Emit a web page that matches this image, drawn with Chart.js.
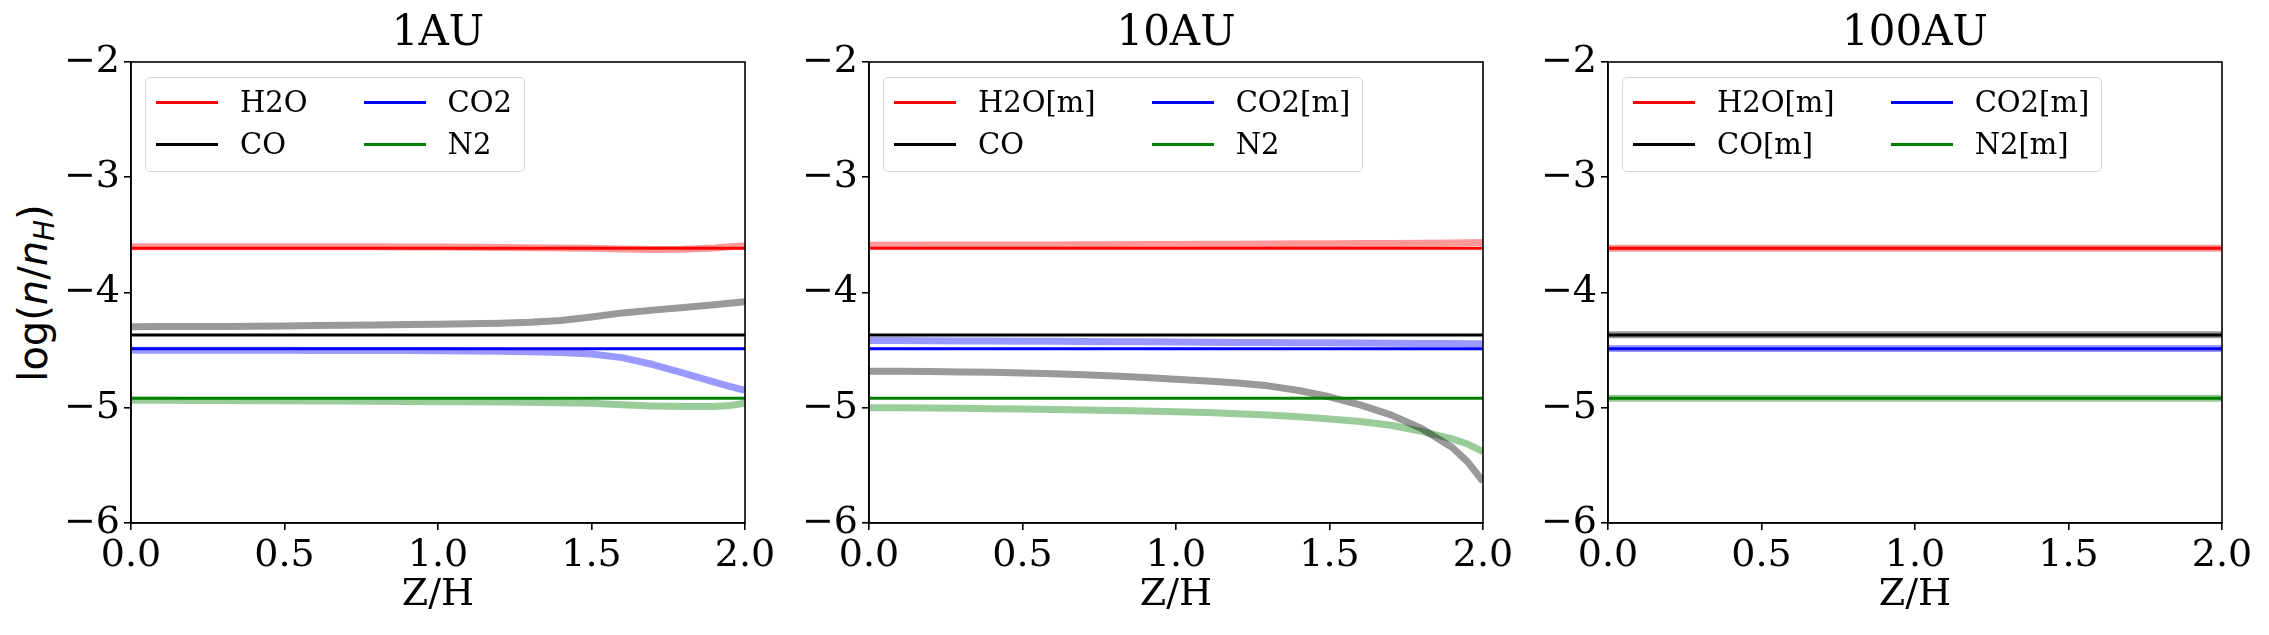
<!DOCTYPE html>
<html>
<head>
<meta charset="utf-8">
<script src="https://cdn.jsdelivr.net/npm/chart.js@4.4.1/dist/chart.umd.min.js"></script>
<style>
html, body { margin:0; padding:0; background:#fff; overflow:hidden; }
body { width:2269px; height:635px; position:relative; }
.panel { position:absolute; top:0; width:769px; height:635px; }
.panel canvas { position:absolute; left:0; top:0; }
.legend { position:absolute; box-sizing:border-box; border:1.5px solid #d5d5d5; border-radius:5px;
  background:rgba(255,255,255,0.8); padding:3px 12px 6px 10px; display:grid;
  grid-template-rows:42px 42px; grid-auto-flow:column; column-gap:56px;
  font:29px 'DejaVu Serif', serif; color:#000; }
.legend .it { display:flex; align-items:center; white-space:nowrap; }
.legend .sw { display:inline-block; width:62px; height:3px; margin-right:22px; }
#ylab { position:absolute; left:33px; top:293px; transform:translate(-50%,-50%) rotate(-90deg);
  font:40px 'DejaVu Sans', sans-serif; white-space:nowrap; color:#000; }
#ylab sub { font-size:0.7em; vertical-align:-0.25em; line-height:0; }
</style>
</head>
<body>
<div id="ylab">log(<i>n</i>/<i>n<sub>H</sub></i>)</div>
<div class="panel" id="p0"><canvas id="c0" width="769" height="635"></canvas></div>
<div class="panel" id="p1"><canvas id="c1" width="769" height="635"></canvas></div>
<div class="panel" id="p2"><canvas id="c2" width="769" height="635"></canvas></div>
<script>
// --- données ---
const zh = [0,0.1,0.2,0.3,0.4,0.5,0.6,0.7,0.8,0.9,1.0,1.1,1.2,1.3,1.4,1.5,1.6,1.7,1.8,1.9,1.95,2.0];
const zEnds = [0, 2];

// lignes fines (valeurs initiales), identiques dans les 3 panneaux
const refH2O = [-3.617, -3.617];
const refCO  = [-4.369, -4.369];
const refCO2 = [-4.488, -4.488];
const refN2  = [-4.918, -4.918];

// 1AU
const h2o1 = [-3.602,-3.602,-3.602,-3.602,-3.602,-3.603,-3.603,-3.604,-3.604,-3.605,-3.606,-3.607,-3.609,-3.611,-3.613,-3.617,-3.623,-3.627,-3.625,-3.613,-3.603,-3.596];
const co1  = [-4.297,-4.296,-4.295,-4.294,-4.292,-4.290,-4.287,-4.284,-4.281,-4.278,-4.275,-4.271,-4.266,-4.258,-4.243,-4.213,-4.177,-4.153,-4.131,-4.106,-4.093,-4.080];
const co21 = [-4.500,-4.500,-4.501,-4.501,-4.502,-4.502,-4.503,-4.503,-4.504,-4.504,-4.505,-4.507,-4.510,-4.514,-4.520,-4.533,-4.565,-4.625,-4.700,-4.778,-4.815,-4.850];
const n21  = [-4.935,-4.936,-4.937,-4.938,-4.939,-4.940,-4.941,-4.942,-4.944,-4.945,-4.947,-4.949,-4.951,-4.953,-4.956,-4.962,-4.973,-4.984,-4.990,-4.990,-4.980,-4.960];

// 10AU
const h2o10 = [-3.589,-3.589,-3.588,-3.588,-3.588,-3.587,-3.587,-3.586,-3.585,-3.584,-3.583,-3.582,-3.581,-3.580,-3.578,-3.577,-3.575,-3.574,-3.572,-3.570,-3.569,-3.567];
const co10  = [-4.683,-4.684,-4.686,-4.689,-4.693,-4.698,-4.705,-4.713,-4.724,-4.737,-4.752,-4.767,-4.786,-4.810,-4.850,-4.905,-4.975,-5.062,-5.180,-5.345,-5.470,-5.640];
const co210 = [-4.416,-4.417,-4.418,-4.420,-4.421,-4.422,-4.424,-4.425,-4.427,-4.428,-4.430,-4.431,-4.433,-4.434,-4.436,-4.437,-4.439,-4.440,-4.442,-4.443,-4.444,-4.445];
const n210  = [-5.000,-5.001,-5.003,-5.005,-5.008,-5.011,-5.015,-5.019,-5.024,-5.029,-5.035,-5.042,-5.051,-5.063,-5.079,-5.097,-5.120,-5.152,-5.205,-5.270,-5.315,-5.380];

// 100AU (plat)
const h2o100 = [-3.617, -3.617];
const co100  = [-4.366, -4.366];
const co2100 = [-4.486, -4.486];
const n2100  = [-4.918, -4.918];

const titles = ['1AU', '10AU', '100AU'];
const names1 = ['H2O', 'CO', 'CO2', 'N2'];
const names2 = ['H2O[m]', 'CO', 'CO2[m]', 'N2'];
const names3 = ['H2O[m]', 'CO[m]', 'CO2[m]', 'N2[m]'];

const colors = ['#ff0000', '#000000', '#0000ff', '#008000'];
const faded  = ['rgba(255,0,0,0.4)', 'rgba(0,0,0,0.4)', 'rgba(0,0,255,0.4)', 'rgba(0,128,0,0.4)'];

const panels = [
  { title: titles[0], names: names1, xs: zh, thick: [h2o1, co1, co21, n21] },
  { title: titles[1], names: names2, xs: zh, thick: [h2o10, co10, co210, n210] },
  { title: titles[2], names: names3, xs: zEnds, thick: [h2o100, co100, co2100, n2100] }
];
const plotLeft = [131, 869, 1608];

const toPts = (xs, ys) => xs.map((x, k) => ({ x: x, y: ys[k] }));
const serif = 'DejaVu Serif';

const framePlugin = {
  id: 'frame',
  afterDatasetsDraw(chart) {
    const { ctx, chartArea: a } = chart;
    ctx.save();
    ctx.strokeStyle = '#000'; ctx.lineWidth = 1.6;
    ctx.strokeRect(a.left, a.top, a.right - a.left, a.bottom - a.top);
    ctx.restore();
  }
};
// titre centré sur la zone du graphe
const titleCenter = {
  id: 'titleCenter',
  afterLayout(chart) {
    const t = chart.titleBlock;
    if (t) { t.left = chart.chartArea.left; t.right = chart.chartArea.right; t.width = t.right - t.left; }
  }
};

const refs = [refH2O, refCO, refCO2, refN2];

panels.forEach((p, i) => {
  const box = document.getElementById('p' + i);
  box.style.left = (plotLeft[i] - 115) + 'px';

  const datasets = [];
  refs.forEach((r, k) => datasets.push({
    label: p.names[k], inLegend: true, data: toPts(zEnds, r),
    borderColor: colors[k], borderWidth: 3, pointRadius: 0, tension: 0, clip: 0
  }));
  p.thick.forEach((t, k) => datasets.push({
    label: p.names[k] + ' (z)', inLegend: false, data: toPts(p.xs, t),
    borderColor: faded[k], borderWidth: 7, pointRadius: 0, tension: 0, clip: 0,
    borderJoinStyle: 'round'
  }));

  const tickFont = { family: serif, size: 38 };
  const chart = new Chart(document.getElementById('c' + i), {
    type: 'line',
    data: { datasets: datasets },
    options: {
      responsive: false, animation: false, events: [],
      layout: { padding: { left: 0, right: 40, top: 0, bottom: 0 } },
      plugins: {
        legend: { display: false }, tooltip: { enabled: false },
        title: { display: true, text: p.title, color: '#000',
          font: { family: serif, size: 42, weight: 'normal', lineHeight: 1.2 },
          padding: { top: 9, bottom: 2.6 } }
      },
      scales: {
        x: {
          type: 'linear', min: 0, max: 2,
          afterFit: s => { s.height = 112; },
          ticks: { stepSize: 0.5, callback: v => v.toFixed(1), color: '#000', font: tickFont,
            padding: 3, maxRotation: 0, autoSkip: false },
          grid: { drawOnChartArea: false, drawTicks: true, tickLength: 7, color: '#000', lineWidth: 1.6 },
          border: { display: true, color: '#000', width: 1.6 },
          title: { display: true, text: 'Z/H', color: '#000', font: tickFont, padding: { top: 0, bottom: 17 } }
        },
        y: {
          type: 'linear', min: -6, max: -2,
          afterFit: s => { s.width = 115; },
          ticks: { stepSize: 1, callback: v => (v < 0 ? '\u2212' : '') + Math.abs(v), color: '#000',
            font: tickFont, padding: 4 },
          grid: { drawOnChartArea: false, drawTicks: true, tickLength: 7, color: '#000', lineWidth: 1.6 },
          border: { display: true, color: '#000', width: 1.6 }
        }
      }
    },
    plugins: [framePlugin, titleCenter]
  });

  // légende HTML à 2 colonnes, dans la zone du graphe
  const a = chart.chartArea;
  const leg = document.createElement('div');
  leg.className = 'legend';
  leg.style.left = (a.left + 14) + 'px';
  leg.style.top = (a.top + 15) + 'px';
  chart.data.datasets.filter(d => d.inLegend).forEach(d => {
    const it = document.createElement('div');
    it.className = 'it';
    const sw = document.createElement('span');
    sw.className = 'sw';
    sw.style.background = d.borderColor;
    const tx = document.createElement('span');
    tx.textContent = d.label;
    it.appendChild(sw); it.appendChild(tx);
    leg.appendChild(it);
  });
  box.appendChild(leg);
});
</script>
</body>
</html>
